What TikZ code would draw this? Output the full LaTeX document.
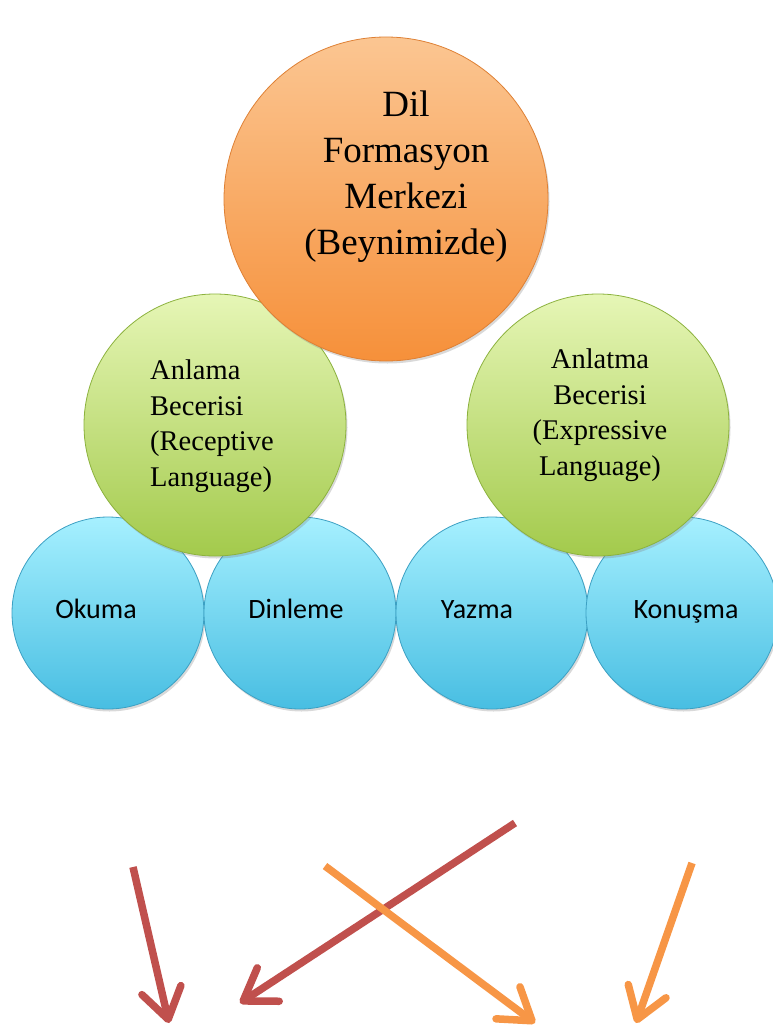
\documentclass[tikz,border=0pt]{standalone}
\usepackage{fontspec}
\newfontfamily\serifface{Liberation Serif}
\newfontfamily\calface{Carlito}
\usetikzlibrary{arrows.meta,shadows}

\definecolor{orangetop}{RGB}{251,198,146}
\definecolor{orangebot}{RGB}{246,144,58}
\definecolor{orangeedge}{RGB}{222,128,52}
\definecolor{greentop}{RGB}{230,246,182}
\definecolor{greenbot}{RGB}{163,202,76}
\definecolor{greenedge}{RGB}{140,178,62}
\definecolor{bluetop}{RGB}{166,240,255}
\definecolor{bluebot}{RGB}{72,190,226}
\definecolor{blueedge}{RGB}{60,160,195}
\definecolor{arrowred}{RGB}{192,80,77}
\definecolor{arroworange}{RGB}{247,150,70}

\begin{document}
\begin{tikzpicture}[x=1pt,y=-1pt,
  bubble/.style={circle, inner sep=0pt, line width=0.8pt,
    drop shadow={shadow xshift=1.5pt, shadow yshift=-2.5pt, opacity=0.3}},
  orangeball/.style={bubble, minimum size=324pt, draw=orangeedge,
    top color=orangetop, bottom color=orangebot},
  greenball/.style={bubble, minimum size=262pt, draw=greenedge,
    top color=greentop, bottom color=greenbot},
  blueball/.style={bubble, minimum size=192pt, draw=blueedge,
    top color=bluetop, bottom color=bluebot},
  bigtext/.style={inner sep=0pt, align=center,
    font=\serifface\fontsize{37}{46}\selectfont},
  midtext/.style={inner sep=0pt,
    font=\serifface\fontsize{28.5}{35.5}\selectfont},
  smalltext/.style={inner sep=0pt, anchor=base,
    font=\calface\fontsize{28}{32}\selectfont},
  redarrow/.style={draw=arrowred, line width=7.5pt,
    -{Straight Barb[length=30pt,width=40pt,round]}},
  orangearrow/.style={draw=arroworange, line width=7.5pt,
    -{Straight Barb[length=30pt,width=40pt,round]}},
]
\useasboundingbox (0,0) rectangle (773,1030);

% bottom row: the four skills
\node[blueball] (okuma)   at (108,613) {};
\node[blueball] (dinleme) at (300,613) {};
\node[blueball] (yazma)   at (492,613) {};
\node[blueball] (konusma) at (682,613) {};

% middle row: receptive and expressive language
\node[greenball] (anlama)  at (215,425) {};
\node[greenball] (anlatma) at (598,425) {};

% top: the language centre
\node[orangeball] (merkez) at (386,199) {};

% labels
\node[bigtext] (merkezlabel) at (406,177)
  {Dil\\Formasyon\\Merkezi\\(Beynimizde)};
\node[midtext, anchor=west, align=left] (anlamalabel) at (150,426)
  {Anlama\\Becerisi\\(Receptive\\Language)};
\node[midtext, align=center] (anlatmalabel) at (600,415)
  {Anlatma\\Becerisi\\(Expressive\\Language)};
\node[smalltext] (okumalabel)   at (96,618)  {Okuma};
\node[smalltext] (dinlemelabel) at (296,618) {Dinleme};
\node[smalltext] (yazmalabel)   at (477,618) {Yazma};
\node[smalltext] (konusmalabel) at (686,618) {Konuşma};

% arrows below
\coordinate (r1s) at (133,867);  \coordinate (r1e) at (169,1023);
\coordinate (r2s) at (515,823);  \coordinate (r2e) at (240,1003);
\coordinate (o1s) at (325,866);  \coordinate (o1e) at (535,1023);
\coordinate (o2s) at (692,863);  \coordinate (o2e) at (636,1023);

\draw[redarrow] (r1s) -- (r1e);
\draw[redarrow] (r2s) -- (r2e);
\draw[orangearrow] (o1s) -- (o1e);
\draw[orangearrow] (o2s) -- (o2e);
\end{tikzpicture}
\end{document}
